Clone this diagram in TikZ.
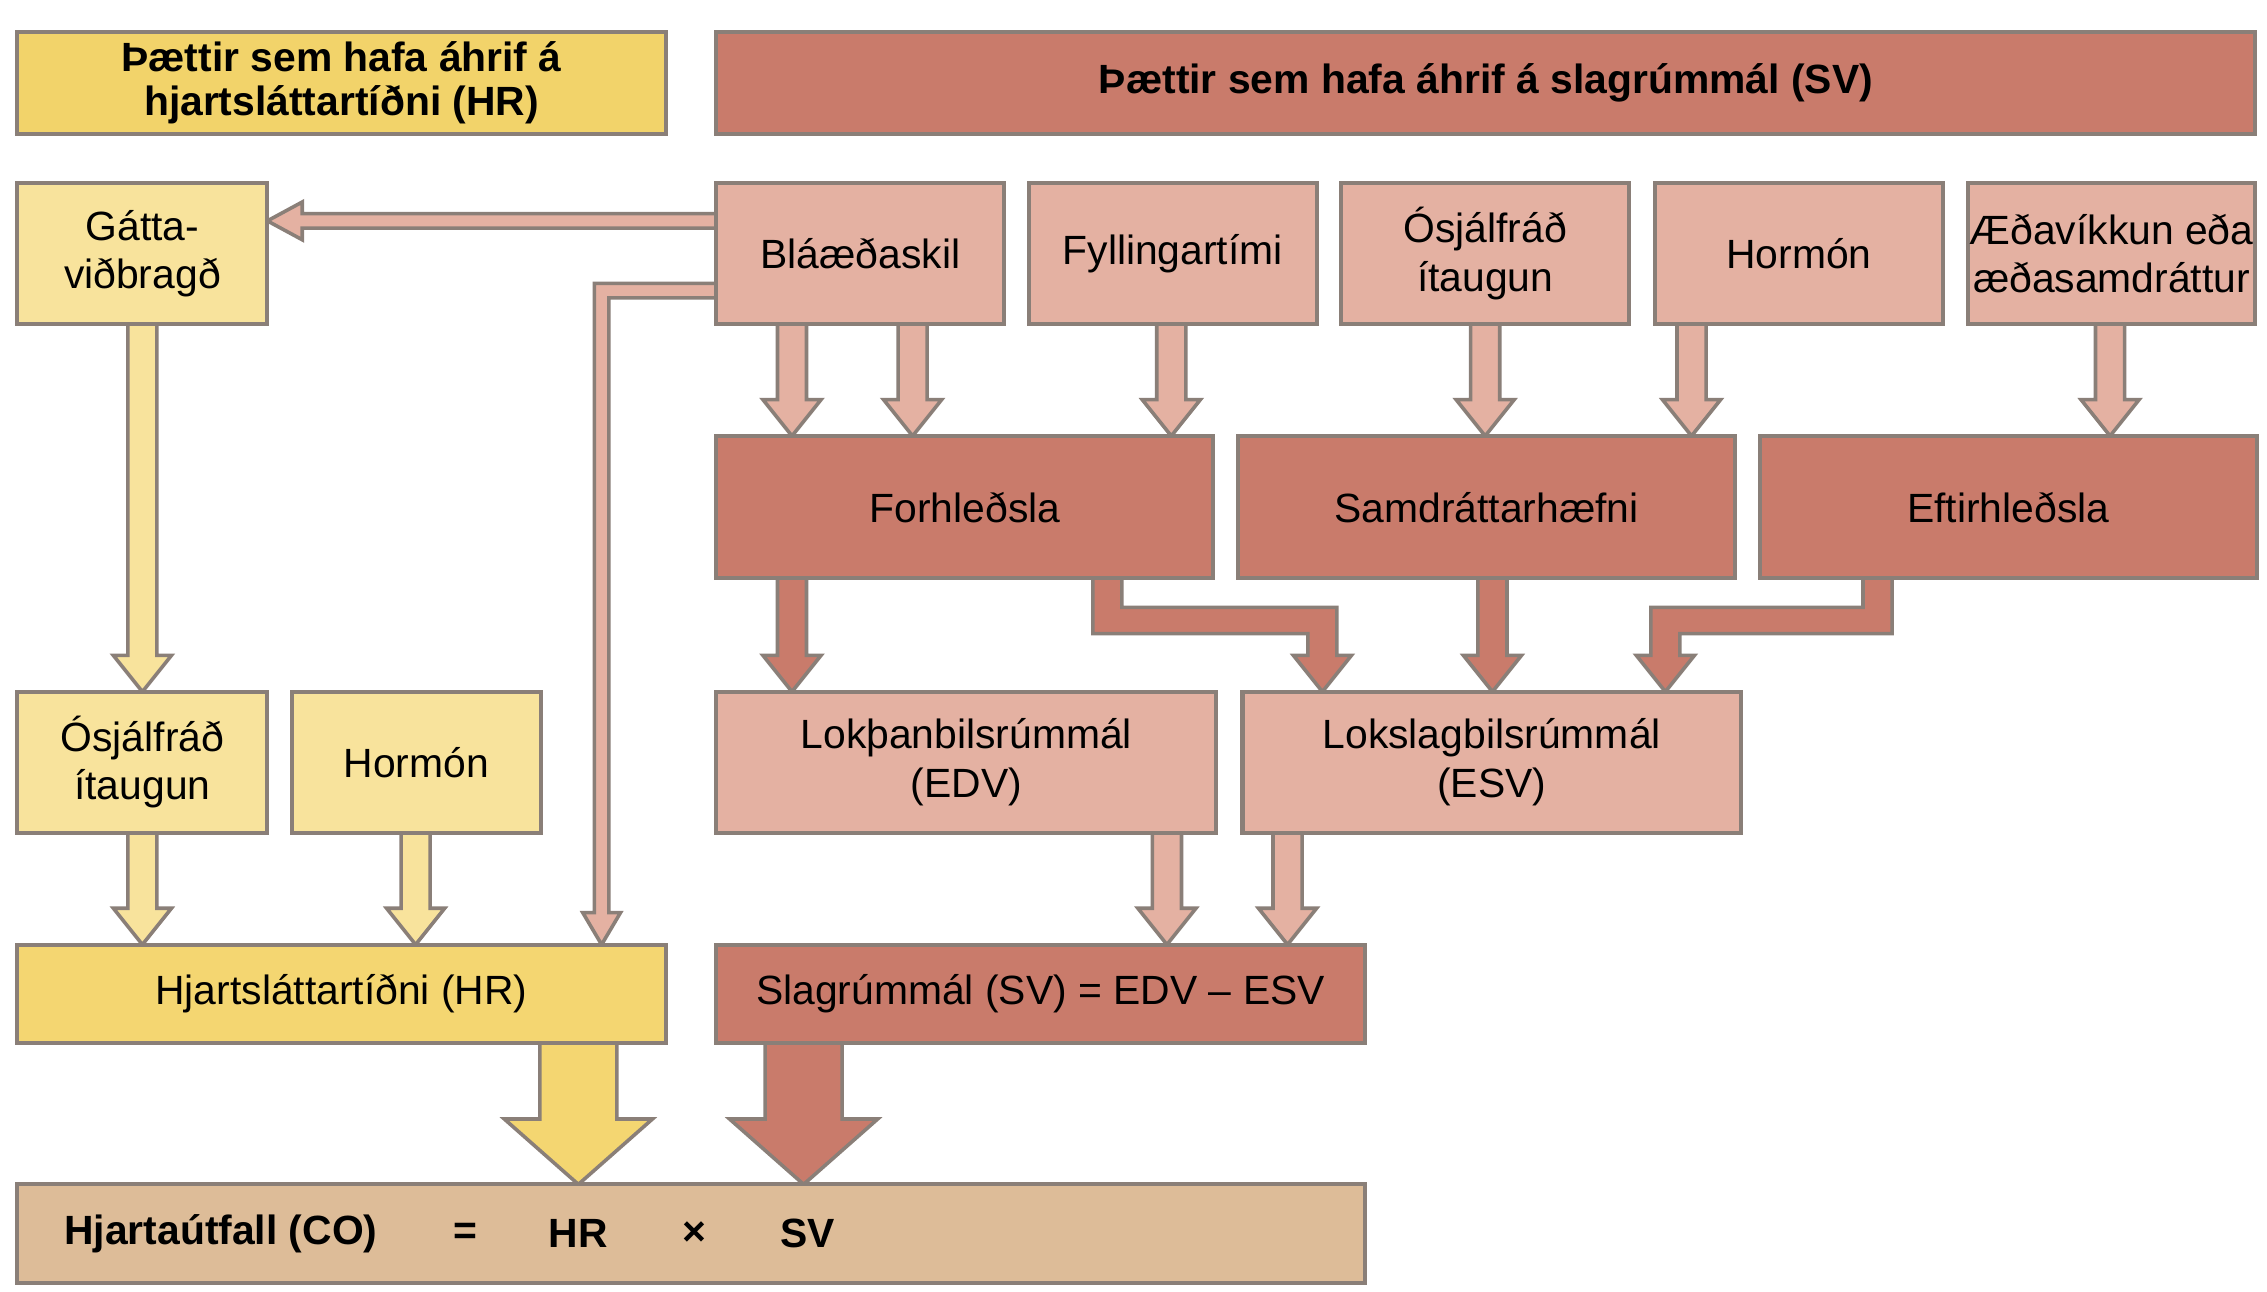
\documentclass[tikz,border=0pt]{standalone}
\usepackage{fontspec}
\setmainfont{Liberation Sans}
\definecolor{yhead}{HTML}{F2D36A}
\definecolor{ylight}{HTML}{F8E39C}
\definecolor{ymid}{HTML}{F4D671}
\definecolor{rhead}{HTML}{C97B6B}
\definecolor{rlight}{HTML}{E4B1A2}
\definecolor{tan}{HTML}{DDBC98}
\definecolor{bord}{HTML}{8A7F78}
\tikzset{
 bx/.style={draw=bord,line width=1.6pt,align=center,font=\fontsize{16}{19}\selectfont},
 ar/.style={draw=bord,line width=1.4pt,line join=miter},
}
\newcommand\mybox[5]{\filldraw[bx,fill=#5] (#1) rectangle (#2); \node[font=\fontsize{16}{19}\selectfont,align=center] (#3) at ($(#1)!0.5!(#2)$) {#4};}
\newcommand\varrow[7]{% x y1 y2 s h l color
 \filldraw[ar,fill=#7] ({#1-#4/2},#2)--({#1-#4/2},{#3-#6})--({#1-#5/2},{#3-#6})--(#1,#3)--({#1+#5/2},{#3-#6})--({#1+#4/2},{#3-#6})--({#1+#4/2},#2);}
\usetikzlibrary{calc}
\begin{document}
\begin{tikzpicture}[x=0.02cm,y=-0.02cm]
\useasboundingbox[fill=white] (0,0) rectangle (1560,889);
% arrows
\varrow{545}{223}{300}{20}{40}{25}{rlight}
\varrow{628}{223}{300}{20}{40}{25}{rlight}
\varrow{806}{223}{300}{20}{40}{25}{rlight}
\varrow{1022}{223}{300}{20}{40}{25}{rlight}
\varrow{1164}{223}{300}{20}{40}{25}{rlight}
\varrow{1452}{223}{300}{20}{40}{25}{rlight}
\varrow{545}{398}{476}{20}{40}{25}{rhead}
\varrow{1027}{398}{476}{20}{40}{25}{rhead}
\filldraw[ar,fill=rhead] (752,398)--(752,436)--(900,436)--(900,451)--(890,451)--(910,476)--(930,451)--(920,451)--(920,418)--(772,418)--(772,398);
\filldraw[ar,fill=rhead] (1302,398)--(1302,436)--(1156,436)--(1156,451)--(1166,451)--(1146,476)--(1126,451)--(1136,451)--(1136,418)--(1282,418)--(1282,398);
\varrow{803}{573}{650}{20}{40}{25}{rlight}
\varrow{886}{573}{650}{20}{40}{25}{rlight}
\varrow{98}{223}{476}{20}{40}{25}{ylight}
\varrow{98}{573}{650}{20}{40}{25}{ylight}
\varrow{286}{573}{650}{20}{40}{25}{ylight}
\filldraw[ar,fill=rlight] (493,147)--(208,147)--(208,139)--(184,152)--(208,165)--(208,157)--(493,157);
\filldraw[ar,fill=rlight] (493,195)--(409,195)--(409,628)--(401,628)--(414,650)--(427,628)--(419,628)--(419,205)--(493,205);
\varrow{398}{718}{815}{53}{102}{45}{ymid}
\varrow{553}{718}{815}{53}{102}{45}{rhead}
% boxes
\mybox{12,22}{458,92}{hrh}{\textbf{Þættir sem hafa áhrif á}\\[-2pt]\textbf{hjartsláttartíðni (HR)}}{yhead}
\mybox{493,22}{1552,92}{svh}{\textbf{Þættir sem hafa áhrif á slagrúmmál (SV)}}{rhead}
\mybox{12,126}{184,223}{gatta}{Gátta-\\viðbragð}{ylight}
\mybox{493,126}{691,223}{bla}{Bláæðaskil}{rlight}
\mybox{708,126}{906,223}{fyl}{Fyllingartími}{rlight}
\mybox{923,126}{1121,223}{osj}{Ósjálfráð\\ítaugun}{rlight}
\mybox{1139,126}{1337,223}{hor}{Hormón}{rlight}
\mybox{1354,126}{1552,223}{aed}{Æðavíkkun eða\\æðasamdráttur}{rlight}
\mybox{493,300}{835,398}{for}{Forhleðsla}{rhead}
\mybox{852,300}{1194,398}{sam}{Samdráttarhæfni}{rhead}
\mybox{1211,300}{1553,398}{eft}{Eftirhleðsla}{rhead}
\mybox{493,476}{837,573}{edv}{Lokþanbilsrúmmál\\(EDV)}{rlight}
\mybox{855,476}{1198,573}{esv}{Lokslagbilsrúmmál\\(ESV)}{rlight}
\mybox{12,476}{184,573}{osj2}{Ósjálfráð\\ítaugun}{ylight}
\mybox{201,476}{372,573}{hor2}{Hormón}{ylight}
\mybox{12,650}{458,718}{hr}{Hjartsláttartíðni (HR)}{ymid}
\mybox{493,650}{939,718}{sv}{Slagrúmmál (SV) = EDV – ESV}{rhead}
\filldraw[bx,fill=tan] (12,815) rectangle (939,883);
\begin{scope}[every node/.style={font=\fontsize{16}{19}\selectfont\bfseries}]
\node (co) at (152,849) {Hjartaútfall (CO)};
\node (eq) at (320,849) {=};
\node (hrt) at (398,849) {HR};
\node (x) at (478,849) {×};
\node (svt) at (556,849) {SV};
\end{scope}
\end{tikzpicture}
\end{document}
